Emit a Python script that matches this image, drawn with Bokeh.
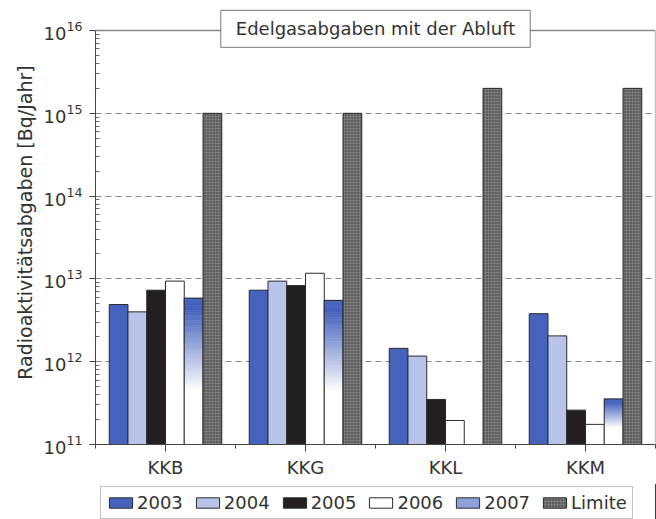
import math
from bokeh.plotting import figure
from bokeh.layouts import column
from bokeh.models import (FixedTicker, Legend, LegendItem, Label, Range1d)
from bokeh.embed import file_html
from bokeh.resources import INLINE

# ---------------- data ----------------
categories = ["KKB", "KKG", "KKL", "KKM"]
series_names = ["2003", "2004", "2005", "2006", "2007", "Limite"]
v2003 = [4.9e12, 7.3e12, 1.45e12, 3.8e12]
v2004 = [4.0e12, 9.4e12, 1.17e12, 2.05e12]
v2005 = [7.3e12, 8.3e12, 3.5e11, 2.6e11]
v2006 = [9.4e12, 1.17e13, 1.95e11, 1.75e11]
v2007 = [5.85e12, 5.5e12, float("nan"), 3.55e11]
limite = [1e15, 1e15, 2e15, 2e15]
y_ticks = [1e11, 1e12, 1e13, 1e14, 1e15, 1e16]

title_text = "Edelgasabgaben mit der Abluft"
y_label = "Radioaktivitätsabgaben [Bq/Jahr]"

# ---------------- style ----------------
FONT = "DejaVu Sans"
TXT = "#333333"
BASE = y_ticks[0]
TOP = y_ticks[-1]
HEADROOM = 0.3623  # decades of space above the top frame line for the title
W = 0.134
C2003 = (69, 99, 189)
C2004 = "#b8c3ea"
C2005 = "#231f20"
C2006 = "#ffffff"
C2007_SWATCH = "#8fa1dc"
CLIM = "#5e5e5e"
EDGE = "#2b2b2b"
FRAME = "#8a8a8a"


def rgb_hex(c):
    return "#%02x%02x%02x" % tuple(int(round(v)) for v in c)


STYLES = {
    "2003": dict(fill_color=rgb_hex(C2003), line_color=EDGE),
    "2004": dict(fill_color=C2004, line_color=EDGE),
    "2005": dict(fill_color=C2005, line_color=EDGE),
    "2006": dict(fill_color=C2006, line_color=EDGE),
    "2007": dict(fill_color=C2007_SWATCH, line_color=EDGE),
    "Limite": dict(fill_color=CLIM, line_color=EDGE, hatch_pattern="+",
                   hatch_color="#888888", hatch_scale=3, hatch_weight=0.6),
}

p = figure(width=656, height=484,
           x_range=Range1d(0, len(categories)),
           y_range=Range1d(BASE, TOP * 10 ** HEADROOM), y_axis_type="log",
           output_backend="svg", toolbar_location=None,
           min_border_left=95, min_border_right=1,
           min_border_top=0, min_border_bottom=40)
p.background_fill_color = "white"
p.border_fill_color = "white"
p.outline_line_color = None

# axes
centers = [i + 0.5 for i in range(len(categories))]
p.xaxis.ticker = FixedTicker(ticks=centers,
                             minor_ticks=list(range(len(categories) + 1)))
p.xaxis.major_label_overrides = {c: n for c, n in zip(centers, categories)}
p.xaxis.major_tick_out = 7
p.xaxis.major_tick_in = 0
p.xaxis.minor_tick_out = 4
p.xaxis.minor_tick_in = 0
p.xaxis.major_label_standoff = 5
p.xaxis.major_label_text_font = FONT
p.xaxis.major_label_text_font_size = "18px"
p.xaxis.major_label_text_color = TXT
p.xaxis.axis_line_color = "#444444"
p.xaxis.major_tick_line_color = "#444444"
p.xaxis.minor_tick_line_color = "#444444"

minor_y = [m * 10 ** e for e in range(11, 16) for m in range(2, 10)]
p.yaxis.ticker = FixedTicker(ticks=y_ticks, minor_ticks=minor_y)
p.yaxis.bounds = (BASE, TOP)
p.yaxis.major_tick_out = 6
p.yaxis.major_tick_in = 0
p.yaxis.minor_tick_out = 0
p.yaxis.minor_tick_in = 4
p.yaxis.major_label_standoff = 7
p.yaxis.major_label_text_font = FONT
p.yaxis.major_label_text_font_size = "18px"
p.yaxis.major_label_text_color = TXT
p.yaxis.axis_label = y_label
p.yaxis.axis_label_text_font = FONT
p.yaxis.axis_label_text_font_size = "19px"
p.yaxis.axis_label_text_font_style = "normal"
p.yaxis.axis_label_text_color = TXT
p.yaxis.axis_label_standoff = 5
p.yaxis.axis_line_color = "#444444"
p.yaxis.major_tick_line_color = "#444444"
p.yaxis.minor_tick_line_color = "#666666"

p.xgrid.visible = False
p.ygrid.grid_line_color = "#8a8a8a"
p.ygrid.grid_line_dash = "6 4"
p.ygrid.grid_line_width = 1

# frame lines: top (at the highest decade) and right
p.segment(x0=[0, len(categories)], y0=[TOP, BASE],
          x1=[len(categories), len(categories)], y1=[TOP, TOP],
          line_color=FRAME, line_width=1.3)


def xs(j):
    return [i + 0.5 + (j - 2.5) * W for i in range(len(categories))]


p.vbar(x=xs(0), top=v2003, bottom=BASE, width=W, **STYLES["2003"])
p.vbar(x=xs(1), top=v2004, bottom=BASE, width=W, **STYLES["2004"])
p.vbar(x=xs(2), top=v2005, bottom=BASE, width=W, **STYLES["2005"])
p.vbar(x=xs(3), top=v2006, bottom=BASE, width=W, **STYLES["2006"])

# 2007: gradient from blue (top) to white, built in slices of each bar
N = 60
gl, gr, gt, gb, gc = [], [], [], [], []
for xc, v in zip(xs(4), v2007):
    if not (v == v):
        continue
    lt = math.log10(v)
    lb = math.log10(BASE)
    for k in range(N):
        y0 = lb + (lt - lb) * k / N
        y1 = lb + (lt - lb) * (k + 1) / N
        d = (lt - (y0 + y1) / 2) / (lt - lb)
        a = max(0.0, min(1.0, 1 - (d - 0.08) / 0.55))
        col = tuple(255 * (1 - a) + c * a for c in C2003)
        gl.append(xc - W / 2)
        gr.append(xc + W / 2)
        gb.append(10 ** y0)
        gt.append(10 ** y1)
        gc.append(rgb_hex(col))
p.quad(left=gl, right=gr, top=gt, bottom=gb, fill_color=gc, line_color=gc,
       line_width=0.6)
p.vbar(x=xs(4), top=v2007, bottom=BASE, width=W, fill_alpha=0,
       line_color=EDGE)

p.vbar(x=xs(5), top=limite, bottom=BASE, width=W, **STYLES["Limite"])

# title box with shadow
ty = TOP * 10 ** 0.02
shadow = Label(x=len(categories) / 2, y=ty, text=title_text,
               text_font=FONT, text_font_size="18px", text_align="center",
               text_baseline="middle", text_alpha=0,
               x_offset=5, y_offset=-5,
               background_fill_color="#7a7a7a", background_fill_alpha=0.6,
               padding=dict(left=15, right=15, top=8, bottom=8))
title = Label(x=len(categories) / 2, y=ty, text=title_text,
              text_font=FONT, text_font_size="18px", text_align="center",
              text_baseline="middle", text_color=TXT,
              background_fill_color="white", border_line_color="#777777",
              border_line_width=1,
              padding=dict(left=15, right=15, top=8, bottom=8))
p.add_layout(shadow)
p.add_layout(title)

# ---------------- legend strip below the chart ----------------
lg = figure(width=656, height=35, x_range=Range1d(0, 1),
            y_range=Range1d(0, 1), output_backend="svg",
            toolbar_location=None, x_axis_location=None,
            y_axis_location=None, min_border=0)
lg.outline_line_color = None
lg.xgrid.visible = False
lg.ygrid.visible = False
items = []
for n in series_names:
    # swatch renderers sit outside the visible range; only the legend shows
    r = lg.vbar(x=[5], top=[1], bottom=0, width=0.1, **STYLES[n])
    items.append(LegendItem(label=n, renderers=[r]))
legend = Legend(items=items, orientation="horizontal", location=(5, 0),
                margin=0, padding=5, spacing=10,
                glyph_width=29, glyph_height=13, label_standoff=2,
                label_text_font=FONT, label_text_font_size="18px",
                label_text_color=TXT, border_line_color="#888888",
                background_fill_color="white")
lg.add_layout(legend)

layout = column(p, lg, spacing=0)
open("out.html", "w").write(file_html(layout, INLINE))
